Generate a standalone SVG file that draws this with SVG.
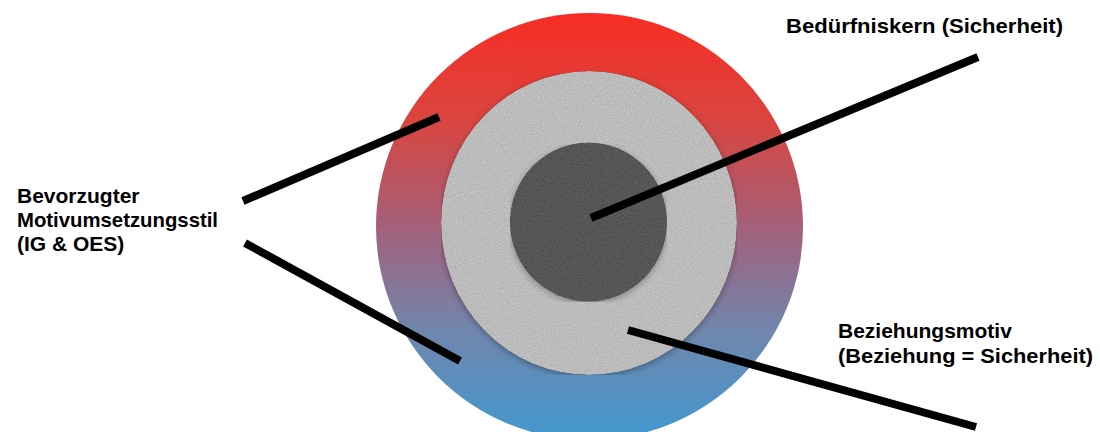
<svg xmlns="http://www.w3.org/2000/svg" width="1100" height="432" viewBox="0 0 1100 432">
  <defs>
    <linearGradient id="outerGrad" x1="0" y1="0" x2="0" y2="1">
      <stop offset="0" stop-color="#f72d24"/>
      <stop offset="0.25" stop-color="#d9453f"/>
      <stop offset="0.5" stop-color="#a4607a"/>
      <stop offset="0.75" stop-color="#6f87ae"/>
      <stop offset="1" stop-color="#4298cf"/>
    </linearGradient>
    <filter id="grain" x="0" y="0" width="100%" height="100%" color-interpolation-filters="sRGB">
      <feTurbulence type="fractalNoise" baseFrequency="0.9" numOctaves="2" seed="4" result="t"/>
      <feColorMatrix in="t" type="matrix" values="0.33 0.33 0.33 0 0  0.33 0.33 0.33 0 0  0.33 0.33 0.33 0 0  0 0 0 0 1" result="g"/>
      <feComposite in="SourceGraphic" in2="g" operator="arithmetic" k1="0" k2="1" k3="0.3" k4="-0.15" result="m"/>
      <feComposite in="m" in2="SourceAlpha" operator="in" result="c"/>
      <feGaussianBlur in="SourceAlpha" stdDeviation="3"/>
      <feOffset dx="0" dy="2" result="b"/>
      <feComponentTransfer in="b" result="s"><feFuncA type="linear" slope="0.3"/></feComponentTransfer>
      <feMerge><feMergeNode in="s"/><feMergeNode in="c"/></feMerge>
    </filter>
  </defs>
  <style>
    .lbl { font-family: "Liberation Sans", Arial, sans-serif; font-weight: bold; font-size: 21px; fill: #000; }
    .conn { stroke: #000; stroke-width: 8; fill: none; stroke-linecap: butt; }
  </style>
  <rect width="1100" height="432" fill="#ffffff"/>

  <g id="outer-ring">
    <circle cx="589.5" cy="226.5" r="213.5" fill="url(#outerGrad)"/>
  </g>
  <g id="middle-ring">
    <ellipse cx="589" cy="223" rx="148" ry="152" fill="#bcbcbc" filter="url(#grain)"/>
  </g>
  <g id="core">
    <ellipse cx="588.5" cy="222" rx="78.5" ry="79.5" fill="#565656" filter="url(#grain)"/>
  </g>

  <g id="connectors">
    <line class="conn" x1="591" y1="218" x2="978" y2="57"/>
    <line class="conn" x1="243" y1="201" x2="439" y2="117"/>
    <line class="conn" x1="245" y1="243" x2="460" y2="361"/>
    <line class="conn" x1="628" y1="330" x2="976" y2="427"/>
  </g>

  <g id="label-core">
    <text class="lbl" x="786" y="33" font-size="22" textLength="277" lengthAdjust="spacingAndGlyphs">Bedürfniskern (Sicherheit)</text>
  </g>
  <g id="label-style">
    <text class="lbl" x="17" y="203">Bevorzugter</text>
    <text class="lbl" x="17" y="227" textLength="201" lengthAdjust="spacingAndGlyphs">Motivumsetzungsstil</text>
    <text class="lbl" x="17" y="251">(IG &amp; OES)</text>
  </g>
  <g id="label-motive">
    <text class="lbl" x="838" y="338">Beziehungsmotiv</text>
    <text class="lbl" x="838" y="363" textLength="255" lengthAdjust="spacingAndGlyphs">(Beziehung = Sicherheit)</text>
  </g>
</svg>
